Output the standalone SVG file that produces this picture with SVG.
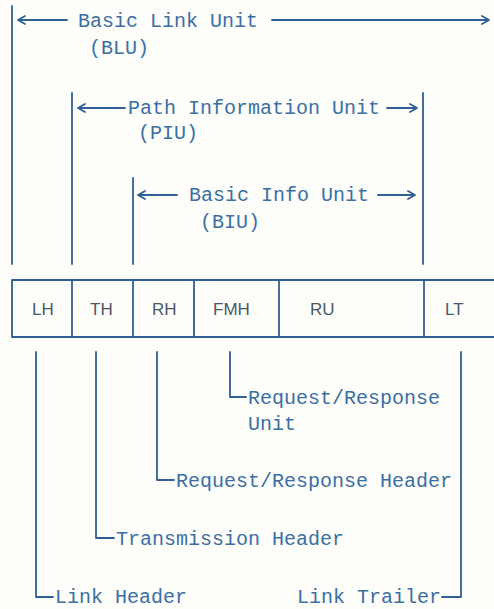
<svg xmlns="http://www.w3.org/2000/svg" width="494" height="609" viewBox="0 0 494 609">
  <style>
    .bg { fill: #fdfdf9; }
    .ln { fill: none; stroke: #2f5f93; stroke-width: 1.8; stroke-linecap: round; stroke-linejoin: round; }
    .mono { font-family: "Liberation Mono", "DejaVu Sans Mono", monospace; font-size: 20px; fill: #3b6fa3; }
    .cell { font-family: "Liberation Sans", Arial, sans-serif; font-size: 17px; fill: #4a5768; }
  </style>
  <rect class="bg" x="0" y="0" width="494" height="609"/>

  <!-- span brackets above the frame -->
  <g id="blu">
    <path class="ln" d="M12,6 V264"/>
    <path class="ln" d="M25,16 L18,20 L25,24 M19,20 H67"/>
    <text class="mono" x="78" y="27">Basic Link Unit</text>
    <path class="ln" d="M272,20 H488 M482,16 L489,20 L482,24"/>
    <text class="mono" x="89" y="54">(BLU)</text>
  </g>

  <g id="piu">
    <path class="ln" d="M72,93 V264 M423,93 V264"/>
    <path class="ln" d="M85,104 L78,108 L85,112 M79,108 H125"/>
    <text class="mono" x="128" y="114">Path Information Unit</text>
    <path class="ln" d="M387,108 H416 M410,104 L417,108 L410,112"/>
    <text class="mono" x="138" y="139">(PIU)</text>
  </g>

  <g id="biu">
    <path class="ln" d="M133,178 V264"/>
    <path class="ln" d="M145,191 L138,195 L145,199 M139,195 H177"/>
    <text class="mono" x="189" y="201">Basic Info Unit</text>
    <path class="ln" d="M378,195 H414 M408,191 L415,195 L408,199"/>
    <text class="mono" x="200" y="228">(BIU)</text>
  </g>

  <!-- frame layout -->
  <g id="frame">
    <rect class="ln" x="12" y="280" width="500" height="57"/>
    <path class="ln" d="M72,280 V337 M133,280 V337 M194,280 V337 M279,280 V337 M424,280 V337"/>
    <text class="cell" x="32" y="315">LH</text>
    <text class="cell" x="90" y="315">TH</text>
    <text class="cell" x="152" y="315">RH</text>
    <text class="cell" x="213" y="315">FMH</text>
    <text class="cell" x="310" y="315">RU</text>
    <text class="cell" x="445" y="315">LT</text>
  </g>

  <!-- leader lines to the field names -->
  <g id="connectors">
    <path class="ln" d="M230,352 V397 H246"/>
    <path class="ln" d="M157,352 V480 H174"/>
    <path class="ln" d="M96,352 V538 H114"/>
    <path class="ln" d="M36,352 V597 H53"/>
    <path class="ln" d="M461,352 V597 H442"/>
  </g>

  <g id="ru-label">
    <text class="mono" x="248" y="404">Request/Response</text>
    <text class="mono" x="248" y="430">Unit</text>
  </g>
  <g id="rh-label">
    <text class="mono" x="176" y="487">Request/Response Header</text>
  </g>
  <g id="th-label">
    <text class="mono" x="116" y="545">Transmission Header</text>
  </g>
  <g id="lh-label">
    <text class="mono" x="55" y="603">Link Header</text>
  </g>
  <g id="lt-label">
    <text class="mono" x="297" y="603">Link Trailer</text>
  </g>
</svg>
